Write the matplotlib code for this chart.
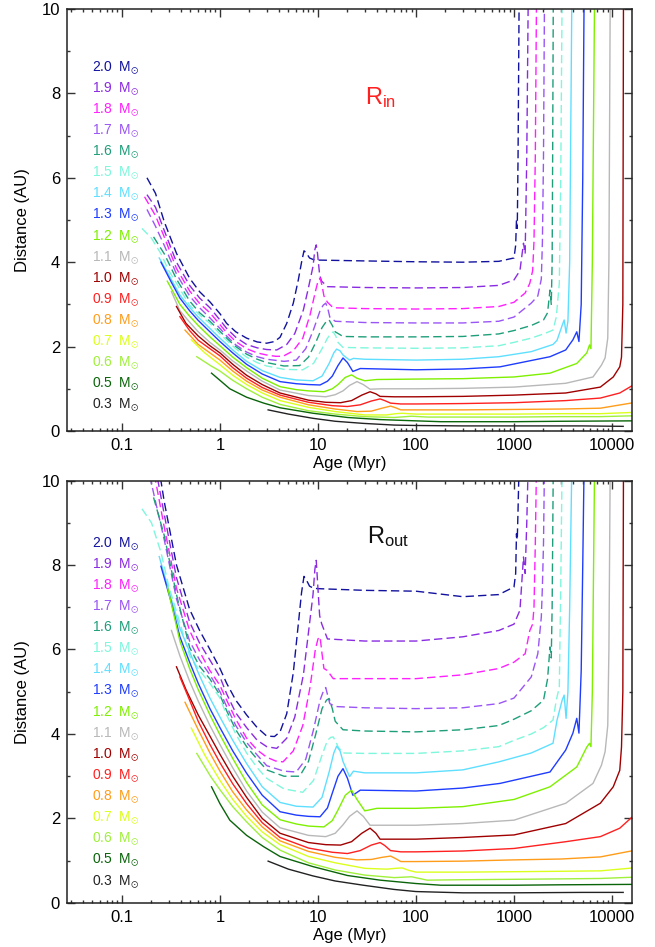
import numpy as np
import matplotlib.pyplot as plt
from matplotlib.ticker import FixedLocator, FixedFormatter, LogLocator, NullFormatter, MultipleLocator

plt.rcParams['font.family'] = ['Liberation Sans', 'DejaVu Sans']
plt.rcParams['mathtext.fontset'] = 'custom'
plt.rcParams['mathtext.rm'] = 'Liberation Sans'
plt.rcParams['mathtext.it'] = 'Liberation Sans:italic'
plt.rcParams['mathtext.fallback'] = 'stixsans'

# ages in Myr, distances in AU (R_in top panel, R_out bottom panel)
age_20 = [0.18, 0.22, 0.27, 0.36, 0.49, 0.62, 0.79, 1.0, 1.17, 1.45, 1.87, 2.4, 3.0, 3.6, 4.1, 4.8, 5.6, 6.3, 6.8, 7.2, 7.6, 8.2, 9.0, 10, 30, 100, 300, 700, 1000, 1040, 1060, 1080, 1100, 1130]
rin_20 = [6.0, 5.63, 4.96, 4.21, 3.62, 3.3, 3.06, 2.78, 2.55, 2.35, 2.20, 2.11, 2.08, 2.12, 2.22, 2.55, 3.03, 3.58, 4.0, 4.27, 4.22, 4.1, 4.06, 4.05, 4.03, 4.01, 4.0, 4.02, 4.1, 4.4, 5.0, 4.8, 6.5, 10.5]
rout_20 = [11.8, 10.8, 9.5, 8.0, 6.95, 6.45, 6.0, 5.55, 5.2, 4.8, 4.45, 4.15, 3.95, 3.94, 4.05, 4.48, 5.45, 6.6, 7.35, 7.73, 7.65, 7.5, 7.45, 7.44, 7.40, 7.38, 7.25, 7.3, 7.48, 7.8, 8.74, 8.6, 9.3, 10.5]

age_19 = [0.18, 0.22, 0.27, 0.36, 0.49, 0.62, 0.79, 1.0, 1.17, 1.45, 1.87, 2.4, 3.0, 3.8, 4.8, 5.8, 7.1, 7.9, 8.9, 9.3, 9.6, 9.9, 10.4, 10.9, 12.5, 30, 100, 300, 700, 1000, 1150, 1250, 1300, 1350, 1400]
rin_19 = [5.6, 5.3, 4.75, 4.0, 3.45, 3.15, 2.92, 2.63, 2.43, 2.22, 2.05, 1.97, 1.93, 1.92, 2.05, 2.31, 2.87, 3.34, 3.9, 4.3, 4.41, 4.2, 3.7, 3.55, 3.42, 3.40, 3.39, 3.40, 3.45, 3.58, 3.8, 4.45, 4.2, 6.5, 10.5]
rout_19 = [11.2, 10.3, 9.2, 7.7, 6.65, 6.15, 5.75, 5.35, 4.95, 4.5, 4.15, 3.85, 3.7, 3.66, 3.9, 4.4, 5.4, 6.3, 7.3, 7.9, 8.11, 7.6, 6.8, 6.61, 6.25, 6.2, 6.2, 6.3, 6.45, 6.6, 6.93, 8.19, 7.8, 9.0, 10.5]

age_18 = [0.17, 0.22, 0.27, 0.36, 0.49, 0.62, 0.79, 1.0, 1.17, 1.45, 1.87, 2.4, 3.0, 3.7, 4.4, 5.6, 7.0, 8.3, 9.4, 10.0, 10.5, 11.0, 11.5, 12.5, 14.3, 30, 100, 300, 700, 1000, 1300, 1450, 1550, 1600, 1650, 1700]
rin_18 = [5.55, 5.1, 4.6, 3.85, 3.32, 3.02, 2.8, 2.52, 2.33, 2.12, 1.95, 1.85, 1.80, 1.77, 1.77, 1.9, 2.2, 2.75, 3.3, 3.55, 3.62, 3.45, 3.2, 3.05, 2.92, 2.90, 2.89, 2.9, 2.95, 3.05, 3.27, 3.5, 3.8, 4.5, 6.5, 10.5]
rout_18 = [11.0, 10.0, 8.9, 7.45, 6.45, 5.95, 5.5, 5.15, 4.8, 4.35, 3.9, 3.62, 3.45, 3.36, 3.34, 3.6, 4.2, 5.11, 6.0, 6.25, 6.3, 5.9, 5.55, 5.5, 5.31, 5.31, 5.31, 5.4, 5.55, 5.7, 5.9, 6.45, 6.6, 7.0, 8.5, 10.5]

age_17 = [0.18, 0.22, 0.27, 0.36, 0.49, 0.62, 0.79, 1.0, 1.17, 1.45, 1.87, 2.4, 3.0, 4.5, 6.0, 7.5, 9.0, 10.5, 11.3, 12.0, 12.6, 13.2, 15, 30, 100, 300, 700, 1000, 1500, 1750, 1900, 1950, 2000, 2050]
rin_17 = [5.25, 4.85, 4.4, 3.72, 3.2, 2.92, 2.68, 2.43, 2.25, 2.04, 1.87, 1.76, 1.70, 1.65, 1.68, 1.95, 2.4, 2.85, 2.98, 3.03, 2.9, 2.7, 2.6, 2.57, 2.56, 2.56, 2.6, 2.7, 3.03, 3.2, 3.6, 4.5, 6.5, 10.5]
rout_17 = [10.4, 9.5, 8.6, 7.2, 6.2, 5.75, 5.4, 5.0, 4.65, 4.2, 3.8, 3.5, 3.25, 3.12, 3.10, 3.4, 4.1, 4.8, 5.0, 5.1, 4.9, 4.72, 4.65, 4.62, 4.60, 4.62, 4.72, 4.85, 5.35, 5.9, 6.77, 7.5, 8.5, 10.5]

age_16 = [0.21, 0.27, 0.36, 0.49, 0.62, 0.79, 1.0, 1.17, 1.45, 1.87, 2.4, 3.0, 4.5, 6.5, 8.0, 9.5, 11.0, 12.2, 13.0, 14.0, 15.0, 18.0, 30, 100, 300, 700, 1000, 1500, 2000, 2200, 2330, 2400, 2450, 2480, 2520]
rin_16 = [4.6, 4.2, 3.6, 3.08, 2.8, 2.6, 2.36, 2.2, 2.0, 1.82, 1.7, 1.62, 1.54, 1.55, 1.75, 2.1, 2.45, 2.6, 2.63, 2.5, 2.35, 2.24, 2.23, 2.23, 2.24, 2.3, 2.38, 2.5, 2.63, 2.8, 3.34, 3.0, 4.0, 6.5, 10.5]
rout_16 = [9.6, 8.7, 7.3, 6.05, 5.6, 5.3, 4.92, 4.55, 4.1, 3.7, 3.4, 3.15, 3.0, 3.0, 3.35, 4.0, 4.6, 4.8, 4.84, 4.6, 4.3, 4.1, 4.07, 4.05, 4.1, 4.2, 4.35, 4.55, 4.8, 5.3, 6.06, 5.8, 7.0, 8.5, 10.5]

age_15 = [0.16, 0.2, 0.25, 0.3, 0.36, 0.49, 0.62, 0.79, 1.0, 1.17, 1.45, 1.87, 2.4, 3.0, 4.5, 7.0, 9.0, 11.0, 12.5, 13.5, 14.3, 15.2, 16, 18, 30, 100, 300, 700, 1000, 1500, 2000, 2500, 2700, 2900, 3000, 3100]
rin_15 = [4.8, 4.57, 4.2, 3.8, 3.5, 2.98, 2.75, 2.55, 2.3, 2.15, 1.95, 1.75, 1.62, 1.54, 1.46, 1.45, 1.6, 1.95, 2.2, 2.3, 2.35, 2.25, 2.1, 1.98, 1.97, 1.96, 1.97, 2.02, 2.1, 2.2, 2.3, 2.39, 2.7, 3.5, 6.0, 10.5]
rout_15 = [9.33, 9.0, 8.3, 7.5, 6.9, 5.85, 5.5, 5.2, 4.85, 4.45, 4.0, 3.55, 3.2, 2.95, 2.7, 2.62, 2.9, 3.5, 3.85, 3.92, 3.93, 3.82, 3.7, 3.55, 3.54, 3.54, 3.6, 3.7, 3.85, 4.0, 4.15, 4.33, 4.8, 5.11, 7.5, 10.5]

age_14 = [0.24, 0.3, 0.39, 0.49, 0.6, 0.79, 1.0, 1.35, 1.87, 2.7, 4.1, 6.0, 8.9, 11.0, 13.0, 14.5, 15.5, 16.8, 18, 21, 23, 30, 100, 300, 700, 1500, 2500, 2750, 3100, 3250, 3400, 3550, 3700, 3900]
rin_14 = [4.1, 3.7, 3.22, 2.93, 2.7, 2.43, 2.2, 1.92, 1.65, 1.43, 1.27, 1.21, 1.19, 1.3, 1.6, 1.85, 1.94, 1.9, 1.8, 1.68, 1.72, 1.70, 1.68, 1.70, 1.76, 1.88, 2.05, 2.15, 2.5, 2.63, 2.32, 2.6, 4.0, 10.5]
rout_14 = [8.2, 7.4, 6.5, 5.95, 5.45, 4.85, 4.4, 3.85, 3.3, 2.75, 2.38, 2.29, 2.27, 2.5, 3.1, 3.55, 3.71, 3.6, 3.35, 2.99, 3.12, 3.08, 3.08, 3.15, 3.34, 3.55, 3.78, 4.33, 4.8, 4.92, 4.37, 5.0, 7.0, 10.5]

age_13 = [0.25, 0.32, 0.39, 0.49, 0.6, 0.79, 1.0, 1.35, 1.87, 2.7, 4.1, 6.0, 8.0, 10.5, 12.5, 14, 16, 18, 20, 22.7, 27, 100, 300, 720, 2330, 3370, 3990, 4370, 4600, 4850, 5030, 5200]
rin_13 = [4.0, 3.52, 3.15, 2.85, 2.62, 2.35, 2.12, 1.85, 1.58, 1.35, 1.17, 1.12, 1.1, 1.09, 1.18, 1.3, 1.55, 1.73, 1.62, 1.41, 1.48, 1.45, 1.47, 1.52, 1.76, 1.92, 2.16, 2.35, 2.12, 3.0, 6.0, 10.5]
rout_13 = [7.97, 7.1, 6.3, 5.7, 5.2, 4.6, 4.15, 3.6, 3.07, 2.55, 2.16, 2.08, 2.05, 2.04, 2.25, 2.6, 3.0, 3.18, 2.95, 2.55, 2.67, 2.65, 2.72, 2.83, 3.10, 3.62, 4.02, 4.37, 4.02, 5.5, 8.0, 10.5]

age_12 = [0.29, 0.39, 0.49, 0.6, 0.79, 1.0, 1.35, 1.87, 2.7, 4.1, 6.0, 8.0, 11.5, 14, 16, 19, 22, 25, 30, 40, 100, 300, 1000, 2330, 4370, 5530, 5900, 6100, 6300, 6650]
rin_12 = [3.55, 3.0, 2.72, 2.5, 2.23, 2.02, 1.75, 1.5, 1.25, 1.05, 0.98, 0.95, 0.93, 1.0, 1.1, 1.27, 1.33, 1.25, 1.19, 1.22, 1.23, 1.24, 1.28, 1.37, 1.6, 1.85, 2.04, 1.95, 4.0, 10.5]
rout_12 = [7.5, 6.2, 5.55, 5.05, 4.45, 3.98, 3.42, 2.85, 2.32, 1.97, 1.87, 1.82, 1.80, 1.95, 2.2, 2.55, 2.67, 2.45, 2.18, 2.24, 2.24, 2.28, 2.45, 2.75, 3.22, 3.69, 3.78, 3.7, 5.0, 10.5]

age_11 = [0.32, 0.39, 0.49, 0.6, 0.79, 1.0, 1.35, 1.87, 2.7, 4.1, 8.0, 12.0, 15, 18, 21, 25, 29, 34, 45, 100, 300, 1000, 3370, 6400, 7800, 8500, 9050, 9300, 9600]
rin_11 = [3.30, 2.85, 2.58, 2.35, 2.1, 1.92, 1.66, 1.42, 1.18, 0.97, 0.84, 0.81, 0.86, 0.95, 1.08, 1.17, 1.1, 0.99, 1.0, 1.0, 1.01, 1.04, 1.13, 1.28, 1.56, 1.73, 2.2, 4.0, 10.5]
rout_11 = [6.45, 5.85, 5.25, 4.78, 4.2, 3.75, 3.2, 2.65, 2.15, 1.78, 1.6, 1.57, 1.65, 1.85, 2.05, 2.18, 2.05, 1.84, 1.84, 1.84, 1.88, 1.96, 2.36, 2.83, 3.26, 3.58, 4.2, 6.0, 10.5]

age_10 = [0.36, 0.45, 0.6, 0.79, 1.0, 1.35, 1.87, 2.7, 4.1, 8.0, 12.0, 17, 22, 28, 34, 39, 43, 60, 100, 300, 1000, 3370, 7600, 10300, 12000, 12500, 12900, 13100]
rin_10 = [2.95, 2.55, 2.25, 2.02, 1.85, 1.58, 1.32, 1.1, 0.9, 0.73, 0.68, 0.67, 0.72, 0.85, 0.93, 0.88, 0.82, 0.81, 0.81, 0.82, 0.85, 0.9, 1.04, 1.28, 1.52, 1.75, 3.0, 10.5]
rout_10 = [5.59, 5.05, 4.45, 3.95, 3.52, 3.0, 2.5, 2.0, 1.65, 1.43, 1.38, 1.37, 1.45, 1.65, 1.77, 1.65, 1.51, 1.51, 1.51, 1.55, 1.61, 1.88, 2.36, 2.75, 3.14, 3.69, 5.0, 10.5]

age_09 = [0.39, 0.49, 0.6, 0.79, 1.0, 1.35, 1.87, 2.7, 4.1, 8.0, 14, 20, 27, 35, 43, 48, 55, 70, 100, 300, 1000, 3370, 7600, 12000, 16500]
rin_09 = [2.71, 2.38, 2.15, 1.95, 1.78, 1.5, 1.25, 1.03, 0.85, 0.68, 0.6, 0.58, 0.62, 0.71, 0.76, 0.72, 0.66, 0.64, 0.64, 0.65, 0.67, 0.72, 0.78, 0.9, 1.09]
rout_09 = [5.35, 4.8, 4.3, 3.75, 3.32, 2.82, 2.35, 1.9, 1.55, 1.3, 1.2, 1.17, 1.24, 1.37, 1.43, 1.36, 1.24, 1.21, 1.21, 1.23, 1.29, 1.45, 1.57, 1.77, 2.06]

age_08 = [0.44, 0.6, 0.79, 1.0, 1.35, 1.87, 2.7, 4.1, 8.0, 15, 25, 35, 45, 55, 62, 70, 100, 300, 1000, 3000, 7600, 16500]
rin_08 = [2.39, 2.05, 1.85, 1.68, 1.42, 1.18, 0.97, 0.8, 0.62, 0.52, 0.46, 0.47, 0.54, 0.59, 0.55, 0.5, 0.5, 0.5, 0.51, 0.52, 0.54, 0.67]
rout_08 = [4.75, 4.1, 3.55, 3.12, 2.63, 2.2, 1.8, 1.47, 1.22, 1.08, 1.02, 1.03, 1.08, 1.11, 1.05, 0.98, 0.98, 0.99, 1.02, 1.04, 1.09, 1.24]

age_07 = [0.51, 0.7, 1.0, 1.35, 1.87, 2.7, 4.1, 8.0, 15, 30, 50, 62, 72, 85, 100, 300, 1000, 3000, 7600, 16500]
rin_07 = [2.16, 1.85, 1.57, 1.32, 1.1, 0.9, 0.72, 0.56, 0.46, 0.38, 0.38, 0.41, 0.42, 0.41, 0.40, 0.40, 0.40, 0.41, 0.41, 0.44]
rout_07 = [4.14, 3.5, 2.9, 2.45, 2.05, 1.68, 1.38, 1.1, 0.95, 0.82, 0.8, 0.82, 0.83, 0.77, 0.73, 0.73, 0.74, 0.75, 0.76, 0.83]

age_06 = [0.58, 0.8, 1.0, 1.35, 1.87, 2.7, 4.1, 8.0, 15, 30, 60, 90, 130, 300, 1000, 3000, 7600, 16500]
rin_06 = [1.76, 1.55, 1.42, 1.2, 1.0, 0.8, 0.63, 0.48, 0.4, 0.34, 0.32, 0.35, 0.33, 0.33, 0.33, 0.34, 0.34, 0.36]
rout_06 = [3.54, 3.0, 2.68, 2.28, 1.92, 1.55, 1.25, 0.95, 0.78, 0.66, 0.6, 0.62, 0.54, 0.55, 0.56, 0.57, 0.58, 0.61]

age_05 = [0.82, 1.0, 1.26, 1.87, 2.8, 4.1, 8.9, 20, 43, 100, 180, 1000, 3000, 16500]
rin_05 = [1.37, 1.2, 1.0, 0.8, 0.66, 0.55, 0.42, 0.32, 0.27, 0.24, 0.22, 0.22, 0.23, 0.24]
rout_05 = [2.75, 2.35, 1.96, 1.6, 1.33, 1.1, 0.86, 0.65, 0.54, 0.46, 0.42, 0.42, 0.43, 0.44]

age_03 = [3.1, 5.0, 8.9, 15, 29, 60, 100, 300, 1000, 5000, 13000]
rin_03 = [0.50, 0.40, 0.30, 0.23, 0.18, 0.14, 0.13, 0.12, 0.12, 0.12, 0.11]
rout_03 = [0.99, 0.80, 0.64, 0.52, 0.42, 0.32, 0.27, 0.24, 0.24, 0.25, 0.25]

masses = ['2.0', '1.9', '1.8', '1.7', '1.6', '1.5', '1.4', '1.3', '1.2', '1.1',
          '1.0', '0.9', '0.8', '0.7', '0.6', '0.5', '0.3']
colors = ['#12129e', '#8a2be2', '#ff20ff', '#9a55f5', '#1f9e7a', '#7ef7dc', '#5fdfff',
          '#1e3cff', '#7ff000', '#b8b8b8', '#a00000', '#ff2020', '#ff9c1a', '#dcff1e',
          '#a0f03c', '#0a640a', '#222222']
ages = [age_20, age_19, age_18, age_17, age_16, age_15, age_14, age_13, age_12,
        age_11, age_10, age_09, age_08, age_07, age_06, age_05, age_03]
rin = [rin_20, rin_19, rin_18, rin_17, rin_16, rin_15, rin_14, rin_13, rin_12,
       rin_11, rin_10, rin_09, rin_08, rin_07, rin_06, rin_05, rin_03]
rout = [rout_20, rout_19, rout_18, rout_17, rout_16, rout_15, rout_14, rout_13, rout_12,
        rout_11, rout_10, rout_09, rout_08, rout_07, rout_06, rout_05, rout_03]
xticks = [0.1, 1, 10, 100, 1000, 10000]
xticklabels = ['0.1', '1', '10', '100', '1000', '10000']

fig = plt.figure(figsize=(6.55, 9.47), dpi=100)
ax1 = fig.add_axes([0.1023, 0.5449, 0.8626, 0.4456])
ax2 = fig.add_axes([0.1023, 0.0465, 0.8626, 0.4461])


def panel(ax, dist, label, label_color, label_xy, top_label_y):
    for i, m in enumerate(masses):
        ls = (0, (6, 3)) if float(m) >= 1.5 else '-'
        ax.plot(ages[i], dist[i], color=colors[i], lw=1.0, ls=ls)
        ax.text(0.044, top_label_y - 0.5 * i, m + '  $\\mathrm{M}_{\\odot}$',
                color=colors[i], fontsize=10, va='center', ha='left',
                transform=ax.get_yaxis_transform())
    ax.set_xscale('log')
    ax.set_xlim(0.0275, 16000)
    ax.set_ylim(0, 10)
    ax.xaxis.set_major_locator(FixedLocator(xticks))
    ax.xaxis.set_major_formatter(FixedFormatter(xticklabels))
    ax.xaxis.set_minor_locator(LogLocator(base=10, subs=np.arange(2, 10), numticks=20))
    ax.xaxis.set_minor_formatter(NullFormatter())
    ax.yaxis.set_major_locator(MultipleLocator(2))
    ax.yaxis.set_minor_locator(MultipleLocator(1))
    ax.tick_params(which='both', direction='in', top=True, right=True,
                   labelsize=12, width=1.0, color='#333333')
    ax.tick_params(which='major', length=5.5, pad=5)
    ax.tick_params(which='minor', length=2.5)
    for s in ax.spines.values():
        s.set_linewidth(1.1)
        s.set_color('#222222')
    ax.set_xlabel('Age (Myr)', fontsize=12, labelpad=2)
    ax.set_ylabel('Distance (AU)', fontsize=12, labelpad=8)
    ax.text(label_xy[0], label_xy[1], label, color=label_color, fontsize=17,
            va='baseline', ha='left')


panel(ax1, rin, 'R$_{\\mathrm{in}}$', '#ff2020', (30, 7.75), 8.6)
panel(ax2, rout, 'R$_{\\mathrm{out}}$', '#111111', (32, 8.51), 8.5)

fig.savefig('out.png', dpi=100)
